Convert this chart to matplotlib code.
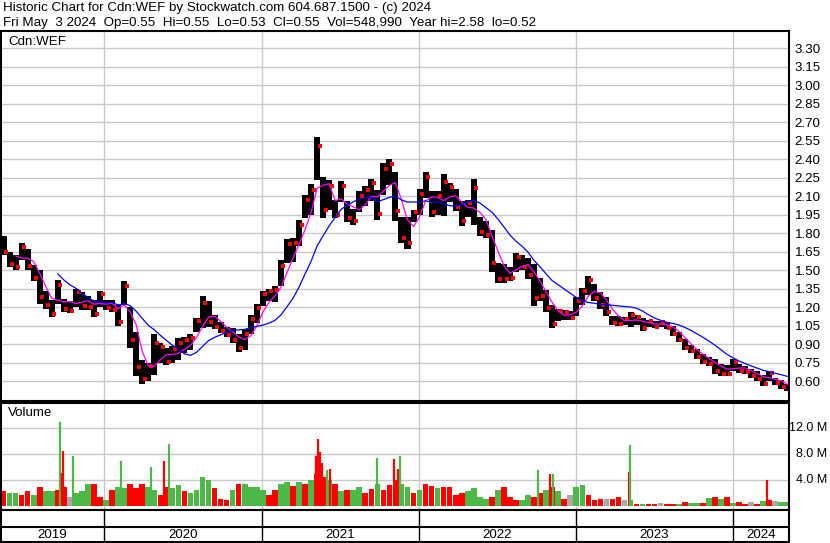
import numpy as np
import pandas as pd
import matplotlib
matplotlib.use('Agg')
import matplotlib.pyplot as plt
import matplotlib.dates as mdates

plt.rcParams['font.family'] = ['Liberation Sans', 'DejaVu Sans']

# two-week bars, first one starting 2019-05-06
start = '2019-05-06'
highs = [1.78, 1.65, 1.62, 1.72, 1.67, 1.54, 1.50, 1.33, 1.26, 1.42,
         1.27, 1.25, 1.35, 1.32, 1.29, 1.26, 1.33, 1.26, 1.26, 1.22,
         1.41, 1.20, 1.00, 0.77, 0.75, 0.98, 0.91, 0.87, 0.89, 0.95,
         0.96, 0.98, 1.11, 1.29, 1.25, 1.14, 1.08, 1.04, 1.03, 0.98,
         1.02, 1.14, 1.23, 1.33, 1.35, 1.37, 1.58, 1.75, 1.76, 1.91,
         2.11, 2.20, 2.58, 2.26, 2.23, 2.07, 2.22, 2.06, 2.00, 2.14,
         2.18, 2.24, 2.15, 2.37, 2.40, 2.30, 1.93, 1.93, 1.99, 2.16,
         2.30, 2.14, 2.14, 2.28, 2.21, 2.16, 2.06, 2.07, 2.24, 1.93,
         1.90, 1.83, 1.56, 1.55, 1.53, 1.64, 1.62, 1.60, 1.55, 1.44,
         1.34, 1.22, 1.19, 1.18, 1.17, 1.28, 1.36, 1.45, 1.39, 1.32,
         1.28, 1.13, 1.13, 1.12, 1.16, 1.14, 1.11, 1.10, 1.09, 1.09,
         1.08, 1.05, 1.00, 0.94, 0.89, 0.86, 0.82, 0.80, 0.78, 0.74,
         0.73, 0.78, 0.74, 0.72, 0.70, 0.68, 0.65, 0.68, 0.63, 0.61,
         0.58]
lows = [1.62, 1.53, 1.50, 1.58, 1.50, 1.41, 1.23, 1.19, 1.12, 1.23,
        1.16, 1.15, 1.20, 1.18, 1.18, 1.12, 1.20, 1.18, 1.16, 1.05,
        1.22, 0.87, 0.64, 0.58, 0.60, 0.65, 0.75, 0.73, 0.75, 0.77,
        0.83, 0.85, 1.00, 1.03, 1.04, 1.02, 0.99, 0.96, 0.91, 0.84,
        0.85, 0.98, 1.07, 1.21, 1.25, 1.24, 1.37, 1.56, 1.57, 1.70,
        1.92, 1.95, 2.23, 1.92, 1.99, 1.92, 2.05, 1.89, 1.87, 1.97,
        2.02, 2.06, 1.91, 2.11, 2.19, 1.90, 1.72, 1.67, 1.89, 1.95,
        2.09, 1.93, 1.95, 1.94, 2.05, 1.98, 1.86, 1.93, 1.87, 1.78,
        1.76, 1.49, 1.40, 1.40, 1.41, 1.49, 1.50, 1.43, 1.21, 1.25,
        1.16, 1.03, 1.09, 1.10, 1.10, 1.13, 1.22, 1.30, 1.25, 1.19,
        1.13, 1.06, 1.05, 1.06, 1.04, 1.06, 1.01, 1.04, 1.03, 1.04,
        1.02, 0.97, 0.92, 0.85, 0.83, 0.78, 0.74, 0.72, 0.66, 0.64,
        0.64, 0.68, 0.67, 0.66, 0.63, 0.60, 0.56, 0.60, 0.57, 0.54,
        0.52]

# volume in millions, r = down, g = up, y = unchanged
vols = [2.4, 2.0, 2.0, 1.7, 2.4, 1.7, 3.0, 2.3, 2.4, 2.5,
        3.0, 1.5, 2.0, 2.3, 3.5, 3.5, 1.5, 1.0, 2.5, 3.0,
        2.8, 3.5, 2.8, 3.5, 3.0, 2.5, 1.7, 3.0, 2.8, 3.3,
        2.3, 2.0, 2.5, 4.5, 4.0, 2.8, 1.2, 1.0, 2.5, 3.5,
        3.5, 2.9, 3.0, 2.5, 1.7, 2.5, 3.5, 3.8, 3.2, 3.8,
        3.5, 4.0, 5.0, 4.5, 4.0, 3.5, 2.3, 2.5, 2.5, 3.0,
        2.0, 2.6, 3.5, 2.5, 3.3, 4.0, 3.5, 3.0, 2.0, 2.5,
        3.5, 3.2, 2.8, 3.0, 3.0, 1.7, 2.0, 2.3, 2.8, 1.5,
        1.2, 1.5, 2.5, 3.0, 1.5, 1.0, 1.0, 1.7, 1.5, 2.0,
        2.5, 3.0, 2.3, 1.2, 1.7, 3.0, 3.3, 1.7, 1.0, 1.2,
        1.2, 1.2, 1.5, 1.0, 1.0, 0.4, 0.4, 0.4, 0.4, 0.5,
        0.4, 0.3, 0.4, 0.7, 0.5, 0.5, 0.5, 1.3, 1.5, 1.2,
        1.5, 0.5, 0.6, 0.4, 0.6, 0.4, 0.8, 1.0, 0.8, 0.7,
        0.6]
vol_dirs = ('rggrrgrggr' 'rygggrrgrg' 'grrrggrrgg' 'rggggrrrgr'
            'ggggrrggrg' 'rgrrgrgrgg' 'rrgrrrggrg' 'rrgrrrrggg'
            'grgrrrggrr' 'grgryggrrr' 'yrrygrgrry' 'rrgrggrgrg'
            'rgrryrgryg' 'g')

# single heavy days
spike_dates = ['2019-09-20', '2019-09-25', '2019-09-27', '2019-10-22',
               '2020-02-09', '2020-04-19', '2020-05-19', '2020-05-31',
               '2021-05-08', '2021-05-13', '2021-05-17', '2021-05-22',
               '2021-06-03', '2021-06-10', '2021-09-27', '2021-11-04',
               '2021-11-13', '2021-11-19', '2022-10-04', '2022-11-01',
               '2022-11-10', '2023-05-04', '2023-05-07', '2024-03-19']
spike_vols = [12.9, 5.2, 8.5, 7.7, 6.9, 6.0, 7.0, 9.6, 7.7, 10.4, 8.3, 6.6,
              5.6, 5.8, 7.5, 7.3, 5.8, 7.7, 5.6, 5.0, 5.0, 5.3, 9.4, 4.1]
spike_dirs = 'grrgggrgrrrrgrgrrggrgrgr'

price_ticks = [0.60, 0.75, 0.90, 1.05, 1.20, 1.35, 1.50, 1.65, 1.80, 1.95,
               2.10, 2.25, 2.40, 2.55, 2.70, 2.85, 3.00, 3.15, 3.30]
vol_ticks = [4.0, 8.0, 12.0]
years = [2019, 2020, 2021, 2022, 2023, 2024]

colmap = {'r': '#ff0000', 'g': '#4cb848', 'y': '#a8a8a8'}
grid_c = '#c8c8c8'

dates = pd.date_range(start, periods=len(highs), freq='14D')
xc = mdates.date2num(dates) + 7
hi = np.array(highs)
lo = np.array(lows)
mid = pd.Series((hi + lo) / 2)
ma_short = mid.rolling(3).mean()
ma_long = mid.rolling(10).mean()

# red close marks: near the low on falling bars, near the high on rising ones
falling = np.r_[True, np.diff(mid.values) < 0]
close_y = np.where(falling, lo + 0.2 * (hi - lo), hi - 0.2 * (hi - lo))

x0 = mdates.date2num(pd.Timestamp('2019-05-07'))
x1 = mdates.date2num(pd.Timestamp('2024-05-10'))
year_starts = [mdates.date2num(pd.Timestamp(f'{y}-01-01')) for y in years[1:]]

W, H = 830, 543
fig = plt.figure(figsize=(W / 100, H / 100), dpi=100)

def px_axes(l, t, r, b):
    return fig.add_axes([l / W, 1 - b / H, (r - l) / W, (b - t) / H])

ax = px_axes(1, 31, 789, 401)
axv = px_axes(1, 403, 789, 510)
axy = px_axes(1, 510, 789, 542)

fs = 9.6

# price panel
ax.set_xlim(x0, x1)
ax.set_ylim(0.440, 3.440)
ax.set_yticks(price_ticks)
ax.set_yticklabels([f'{t:.2f}' for t in price_ticks])
ax.set_xticks(year_starts)
ax.tick_params(axis='x', length=0, labelbottom=False)
ax.yaxis.tick_right()
ax.tick_params(axis='y', length=0, pad=4, labelsize=fs)
ax.grid(True, color=grid_c, lw=1.0)
ax.set_axisbelow(True)
ax.bar(xc, hi - lo, bottom=lo, width=14, color='black', linewidth=0)
ax.plot(xc + 6, close_y, 's', color='#ff0000', ms=2.4, mew=0)
ax.plot(xc, ma_short, color='#ff00ff', lw=0.9)
ax.plot(xc, ma_long, color='#0000ff', lw=0.9)
ax.text(7 / 788, 1 - 11 / 370, 'Cdn:WEF', transform=ax.transAxes,
        fontsize=fs, va='center', ha='left')

# volume panel
axv.set_xlim(x0, x1)
axv.set_ylim(-0.57, 15.9)
axv.set_yticks(vol_ticks)
axv.set_yticklabels([])
axv.set_xticks(year_starts)
axv.tick_params(axis='both', length=0, labelbottom=False)
axv.grid(True, color=grid_c, lw=1.0)
axv.set_axisbelow(True)
axv.bar(xc, vols, width=13, color=[colmap[c] for c in vol_dirs], linewidth=0)
axv.vlines(mdates.date2num(pd.to_datetime(spike_dates)), 0, spike_vols,
           colors=[colmap[c] for c in spike_dirs], lw=1.6)
axv.text(7 / 788, 1 - 10 / 107, 'Volume', transform=axv.transAxes,
         fontsize=fs, va='center', ha='left')
for t in vol_ticks:
    y_px = 506.3 - t * 6.5
    fig.text(827 / W, 1 - y_px / H, f'{t:.1f} M', fontsize=9.0,
             ha='right', va='center')

# year strip
axy.set_xlim(x0, x1)
axy.set_ylim(0, 1)
axy.set_xticks([])
axy.set_yticks([])
axy.axhline(15 / 32, color='black', lw=1.5)
for xs in year_starts:
    axy.axvline(xs, color='black', lw=1.0)
edges = [x0] + year_starts + [x1]
for y, a, b in zip(years, edges[:-1], edges[1:]):
    axy.text((a + b) / 2, 7.5 / 32, str(y), ha='center', va='center', fontsize=fs)

for a in (ax, axv, axy):
    for s in a.spines.values():
        s.set_color('black')
        s.set_linewidth(1.5)

fig.text(3 / W, 1 - 8 / H,
         'Historic Chart for Cdn:WEF by Stockwatch.com 604.687.1500 - (c) 2024',
         fontsize=9.6, va='center', ha='left')
fig.text(3 / W, 1 - 23 / H,
         'Fri May  3 2024  Op=0.55  Hi=0.55  Lo=0.53  Cl=0.55  Vol=548,990  Year hi=2.58  lo=0.52',
         fontsize=9.6, va='center', ha='left')

fig.savefig('out.png', dpi=100)
